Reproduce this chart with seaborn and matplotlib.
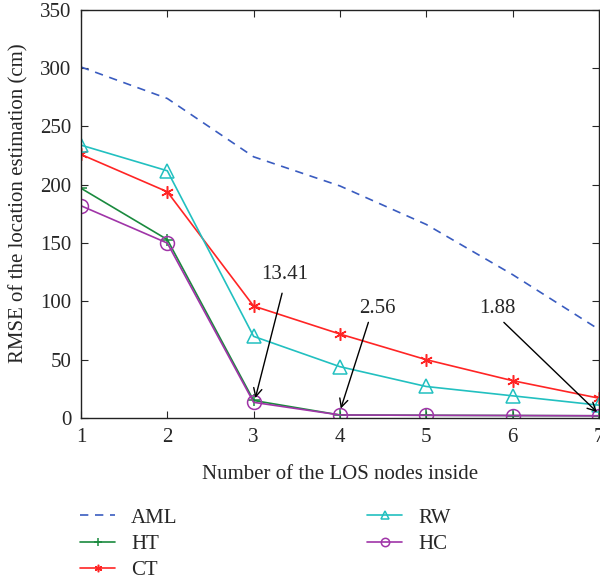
import matplotlib
matplotlib.use("Agg")
import matplotlib.pyplot as plt
import seaborn as sns

# ── Data ──────────────────────────────────────────────────────────────────────

los_nodes = [1, 2, 3, 4, 5, 6, 7]

aml = [301, 274, 224, 199, 166, 123, 76]
ht = [197, 153, 15, 2.56, 2.3, 2.1, 1.88]
ct = [226, 194, 96, 72, 50, 32, 17]
rw = [234, 212, 70, 44, 27, 19, 11]
hc = [182, 150, 13.41, 2.56, 2.3, 2.1, 1.88]

# ── Style ─────────────────────────────────────────────────────────────────────

sns.set_style("ticks")
plt.rcParams["font.family"] = ["Liberation Serif", "DejaVu Serif"]

SERIES = [
    ("AML", aml, "#3a5cc0", (5, 4), None),
    ("HT", ht, "#1a8a3e", "", "+"),
    ("CT", ct, "#ff2525", "", (6, 2, 0)),
    ("RW", rw, "#22c0c0", "", "^"),
    ("HC", hc, "#a035a8", "", "o"),
]

fig = plt.figure(figsize=(6.0, 5.81), dpi=100)
ax = fig.add_axes([0.135, 0.2806, 0.863, 0.7024])

for name, vals, color, dash, marker in SERIES:
    kw = dict(x=los_nodes, y=vals, color=color, linewidth=1.2, label=name, ax=ax)
    if marker is None:
        sns.lineplot(**kw, linestyle=(0, dash))
    else:
        sns.lineplot(**kw, marker=marker, markersize=10 if marker in ("^", "o") else 9,
                     markerfacecolor="none", markeredgecolor=color, markeredgewidth=1.1)

if ax.get_legend() is not None:
    ax.get_legend().remove()

ax.set_xlim(1, 7)
ax.set_ylim(0, 350)
ax.set_xticks(los_nodes)
ax.set_yticks(range(0, 351, 50))
ax.tick_params(direction="in", top=True, right=True, length=5, labelsize=15, pad=7)
for sp in ax.spines.values():
    sp.set_visible(True)
    sp.set_linewidth(1.0)
    sp.set_color("#222222")

ax.set_xlabel("Number of the LOS nodes inside", fontsize=15, labelpad=13)
ax.set_ylabel("RMSE of the location estimation (cm)", fontsize=15, labelpad=8)
ax.yaxis.label.set_y(0.527)

# ── Annotations ───────────────────────────────────────────────────────────────

notes = [
    ("13.41", (3.36, 123), (3.33, 107), (3.02, 17)),
    ("2.56", (4.43, 94), (4.33, 82), (4.01, 8)),
    ("1.88", (5.82, 94), (5.90, 82), (6.98, 5)),
]
for label, txt_pos, tail, head in notes:
    ax.text(*txt_pos, label, fontsize=15, ha="center", va="center")
    ax.annotate("", xy=head, xytext=tail,
                arrowprops=dict(arrowstyle="->,head_length=0.6,head_width=0.3",
                                color="black", lw=1.0, shrinkA=0, shrinkB=0))

# ── Legend ────────────────────────────────────────────────────────────────────

handles, labels = ax.get_legend_handles_labels()
fig.legend(handles, labels, ncol=2, loc="upper left", bbox_to_anchor=(0.102, 0.158),
           frameon=False, fontsize=15, handlelength=1.7, handletextpad=0.75,
           columnspacing=9.1, labelspacing=0.33, markerscale=0.6)

fig.savefig("out.png", dpi=100)
